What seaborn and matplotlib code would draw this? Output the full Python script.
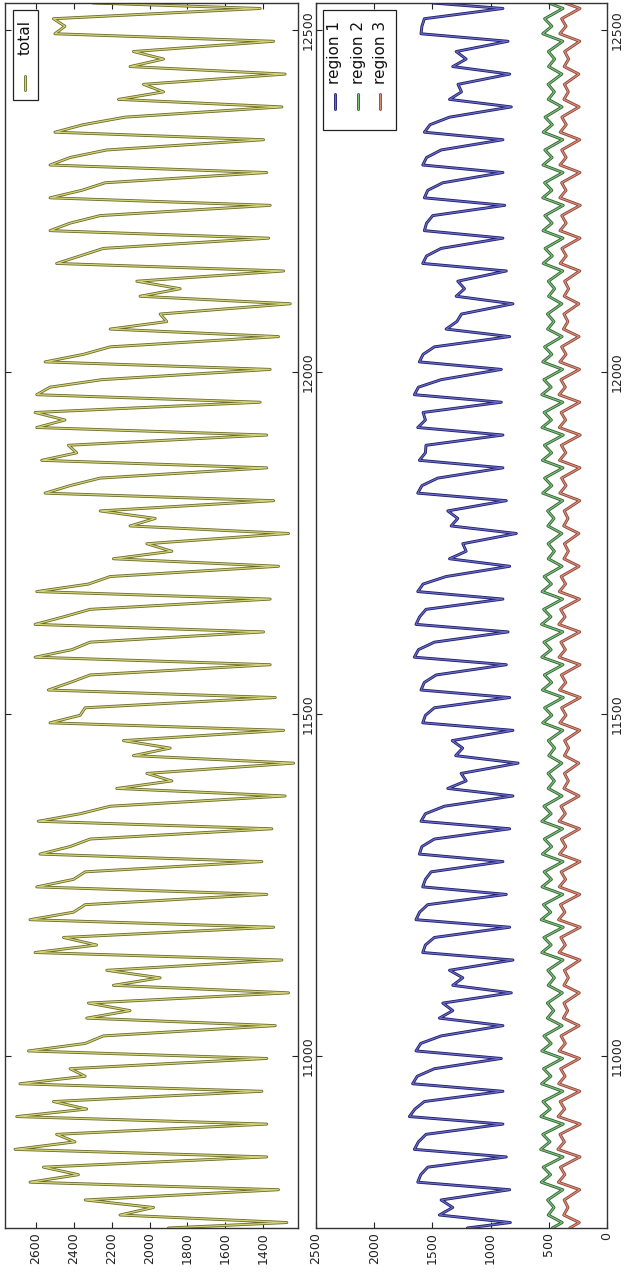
import matplotlib
matplotlib.use("Agg")
import matplotlib.pyplot as plt
import matplotlib.patheffects as pe
from matplotlib.lines import Line2D
from matplotlib.patches import Rectangle
import pandas as pd
import seaborn as sns

# ---------------- data ----------------
start_index = 10748
first_trough = 10756
day_length = 48
key_offsets = [0, 11, 22, 33]   # trough, first peak, midday, evening kink
end_index = 12540

total_trough = [1274, 1318, 1380, 1380, 1406, 1380, 1335, 1265, 1300, 1344,
                1380, 1406, 1353, 1283, 1238, 1291, 1335, 1362, 1397, 1362,
                1318, 1265, 1344, 1380, 1380, 1415, 1362, 1318, 1256, 1291,
                1370, 1362, 1380, 1397, 1300, 1283, 1344, 1415]
total_peak1 = [2156, 2632, 2711, 2702, 2685, 2640, 2332, 2191, 2605, 2632,
               2596, 2579, 2588, 2173, 2085, 2526, 2535, 2605, 2605, 2596,
               2191, 2103, 2552, 2570, 2596, 2596, 2552, 2208, 2050, 2491,
               2526, 2526, 2526, 2500, 2164, 2103, 2500]
total_mid = [1979, 2376, 2394, 2332, 2340, 2340, 2103, 1944, 2280, 2402,
             2402, 2420, 2367, 1882, 1891, 2367, 2420, 2411, 2455, 2323,
             1882, 1970, 2420, 2385, 2447, 2526, 2350, 1909, 1838, 2367,
             2420, 2358, 2420, 2350, 1926, 1926, 2447]
total_peak2 = [2340, 2561, 2491, 2508, 2420, 2244, 2323, 2226, 2455, 2340,
               2340, 2314, 2208, 2014, 2138, 2340, 2314, 2314, 2314, 2208,
               2014, 2261, 2261, 2429, 2605, 2252, 2208, 1944, 2067, 2244,
               2261, 2235, 2226, 2130, 2032, 2085, 2508]
total_ends = [1900, 2300]

region1_trough = [830, 836, 865, 894, 894, 908, 894, 822, 808, 836,
                  865, 894, 836, 808, 764, 808, 836, 865, 850, 894,
                  836, 779, 865, 894, 894, 908, 908, 836, 808, 865,
                  894, 879, 894, 894, 822, 836, 850, 894]
region1_peak1 = [1440, 1626, 1655, 1698, 1670, 1641, 1440, 1325, 1583, 1641,
                 1583, 1612, 1598, 1368, 1300, 1583, 1598, 1655, 1641, 1626,
                 1353, 1339, 1626, 1612, 1626, 1655, 1612, 1382, 1296, 1583,
                 1569, 1569, 1583, 1569, 1353, 1325, 1598]
region1_mid = [1325, 1600, 1620, 1650, 1630, 1600, 1325, 1239, 1560, 1610,
               1560, 1590, 1560, 1210, 1240, 1560, 1570, 1620, 1610, 1580,
               1210, 1282, 1590, 1560, 1560, 1620, 1580, 1290, 1224, 1550,
               1550, 1540, 1550, 1520, 1250, 1210, 1590]
region1_peak2 = [1425, 1540, 1555, 1569, 1483, 1425, 1411, 1353, 1483, 1540,
                 1511, 1483, 1397, 1253, 1330, 1483, 1468, 1483, 1555, 1382,
                 1239, 1368, 1454, 1555, 1580, 1425, 1483, 1250, 1282, 1425,
                 1497, 1411, 1425, 1353, 1280, 1296, 1569]
region1_ends = [1200, 1500]

region2_trough = [385, 380, 378, 376, 380, 382, 386, 384, 378, 376,
                  380, 378, 382, 386, 388, 380, 376, 378, 380, 382,
                  386, 388, 380, 378, 376, 380, 382, 386, 388, 380,
                  378, 376, 378, 380, 386, 388, 380, 378]
region2_peak1 = [505, 565, 570, 568, 562, 560, 512, 505, 560, 565,
                 558, 555, 560, 505, 500, 552, 555, 560, 562, 558,
                 505, 508, 552, 555, 558, 560, 552, 510, 502, 548,
                 550, 552, 550, 548, 505, 502, 552]
region2_mid = [455, 485, 490, 488, 482, 480, 458, 452, 480, 484,
               478, 476, 480, 452, 450, 474, 476, 480, 482, 478,
               452, 455, 474, 476, 478, 480, 474, 456, 450, 470,
               472, 474, 472, 470, 452, 450, 474]
region2_peak2 = [510, 548, 552, 550, 545, 542, 512, 508, 542, 546,
                 540, 538, 542, 506, 504, 536, 538, 542, 544, 540,
                 506, 510, 536, 538, 540, 542, 536, 512, 504, 532,
                 534, 536, 534, 532, 506, 504, 536]
region2_ends = [470, 500]

region3_trough = [238, 235, 232, 230, 234, 236, 240, 238, 232, 230,
                  234, 232, 236, 240, 242, 234, 230, 232, 234, 236,
                  240, 242, 234, 232, 230, 234, 236, 240, 242, 234,
                  232, 230, 232, 234, 240, 242, 234, 232]
region3_peak1 = [372, 418, 422, 420, 415, 412, 375, 370, 412, 416,
                 410, 408, 412, 370, 366, 405, 408, 412, 414, 410,
                 370, 372, 405, 408, 410, 412, 405, 374, 368, 402,
                 404, 405, 404, 402, 370, 368, 405]
region3_mid = [335, 362, 366, 364, 360, 358, 338, 332, 358, 362,
               356, 354, 358, 332, 330, 352, 354, 358, 360, 356,
               332, 335, 352, 354, 356, 358, 352, 336, 330, 350,
               351, 352, 351, 350, 332, 330, 352]
region3_peak2 = [368, 400, 404, 402, 398, 395, 370, 366, 396, 400,
                 394, 392, 396, 366, 364, 390, 392, 396, 398, 394,
                 366, 368, 390, 392, 394, 396, 390, 370, 364, 388,
                 389, 390, 389, 388, 366, 364, 390]
region3_ends = [320, 360]

total_ticks = [1400, 1600, 1800, 2000, 2200, 2400, 2600]
region_ticks = [0, 500, 1000, 1500, 2000, 2500]
index_ticks = [11000, 11500, 12000, 12500]


def build_series(trough, p1, mid, p2, ends):
    idx = [start_index]
    val = [ends[0]]
    for k in range(len(p1)):
        t = first_trough + day_length * k
        for off, v in zip(key_offsets, (trough[k], p1[k], mid[k], p2[k])):
            idx.append(t + off)
            val.append(v)
    idx.append(first_trough + day_length * len(p1))
    val.append(trough[-1])
    idx.append(end_index)
    val.append(ends[1])
    return pd.DataFrame({"index": idx, "value": val})


df_total = build_series(total_trough, total_peak1, total_mid, total_peak2, total_ends)
df_r1 = build_series(region1_trough, region1_peak1, region1_mid, region1_peak2, region1_ends)
df_r2 = build_series(region2_trough, region2_peak1, region2_mid, region2_peak2, region2_ends)
df_r3 = build_series(region3_trough, region3_peak1, region3_mid, region3_peak2, region3_ends)

# ---------------- style ----------------
sns.set_theme(style="ticks")
plt.rcParams["font.family"] = ["DejaVu Sans"]
plt.rcParams["axes.edgecolor"] = "#333333"
plt.rcParams["axes.linewidth"] = 1.0

styles = {
    "total": dict(light="#d4d476", dark="#6a6a2c"),
    "region 1": dict(light="#6a6ac4", dark="#1e1e6e"),
    "region 2": dict(light="#7cc07c", dark="#2f5f2f"),
    "region 3": dict(light="#d88c7c", dark="#8a4434"),
}


def line_kw(name):
    s = styles[name]
    return dict(color=s["light"], linewidth=0.9,
                path_effects=[pe.Stroke(linewidth=2.1, foreground=s["dark"]), pe.Normal()])


W, H = 627, 1273
fig = plt.figure(figsize=(W / 100, H / 100), dpi=100)
fig.patch.set_facecolor("white")


def rect_px(x0, y0, x1, y1):
    return [x0 / W, 1 - y1 / H, (x1 - x0) / W, (y1 - y0) / H]


ax1 = fig.add_axes(rect_px(5, 3, 298, 1228))
ax2 = fig.add_axes(rect_px(316, 3, 607, 1228))

sns.lineplot(data=df_total, x="value", y="index", orient="y", sort=False,
             estimator=None, ax=ax1, **line_kw("total"))
for df, name in ((df_r1, "region 1"), (df_r2, "region 2"), (df_r3, "region 3")):
    sns.lineplot(data=df, x="value", y="index", orient="y", sort=False,
                 estimator=None, ax=ax2, **line_kw(name))

ax1.set_xlim(2764, 1215)
ax1.set_xticks(total_ticks)
ax2.set_xlim(2500, 0)
ax2.set_xticks(region_ticks)

for ax in (ax1, ax2):
    ax.set_ylim(start_index, end_index)
    ax.set_yticks(index_ticks)
    ax.ticklabel_format(axis="y", useOffset=False, style="plain")
    ax.set_xlabel("")
    ax.set_ylabel("")
    ax.set_facecolor("white")
    ax.grid(False)
    ax.tick_params(axis="both", direction="in", length=4, width=0.8,
                   top=True, bottom=True, left=True, right=True,
                   labelsize=9, colors="#222222", pad=3)
    ax.tick_params(axis="y", labelleft=False, labelright=True)
    for lbl in ax.get_xticklabels():
        lbl.set_rotation(90)
    for lbl in ax.get_yticklabels():
        lbl.set_rotation(90)
        lbl.set_va("center")
    for sp in ax.spines.values():
        sp.set_visible(True)
        sp.set_color("#333333")
        sp.set_linewidth(1.0)


# ---------------- rotated legends ----------------
def fx(x):
    return x / W


def fy(y):
    return 1 - y / H


def legend_box(x0, y0, x1, y1):
    fig.add_artist(Rectangle((fx(x0), fy(y1)), (x1 - x0) / W, (y1 - y0) / H,
                             transform=fig.transFigure, facecolor="white",
                             edgecolor="#222222", linewidth=0.9, zorder=5))


def legend_entry(name, x, text_bottom, handle_top, handle_bottom):
    kw = line_kw(name)
    fig.add_artist(Line2D([fx(x), fx(x)], [fy(handle_bottom), fy(handle_top)],
                          transform=fig.transFigure, zorder=6, **kw))
    fig.text(fx(x), fy(text_bottom), name, rotation=90, ha="center", va="bottom",
             fontsize=11, color="#111111", zorder=7)


legend_box(13, 10, 38, 100)
legend_entry("total", 25.5, 55, 76, 90)

legend_box(323, 10, 396, 130)
legend_entry("region 1", 335, 84, 94, 109)
legend_entry("region 2", 358, 84, 94, 109)
legend_entry("region 3", 380, 84, 94, 109)

fig.savefig("out.png", dpi=100, facecolor="white")
